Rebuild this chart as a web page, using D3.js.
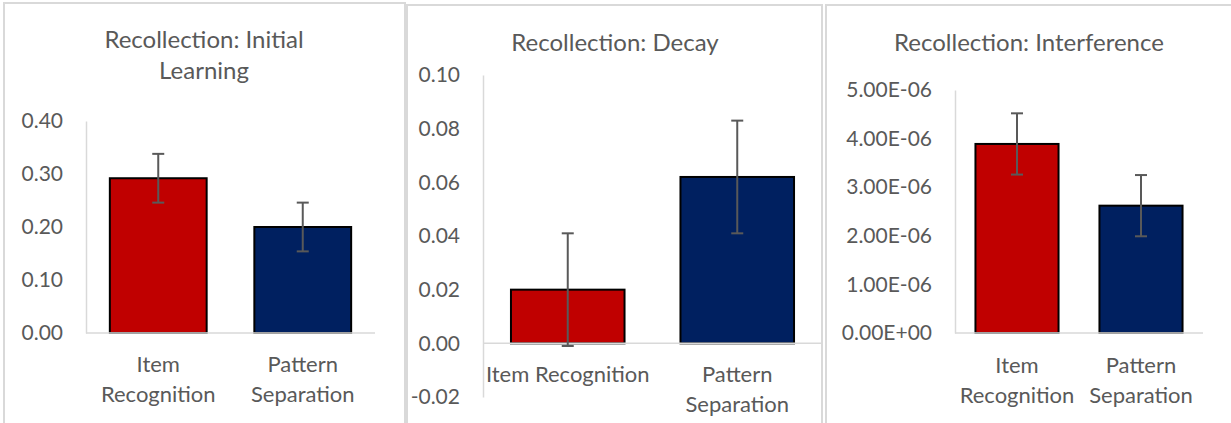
<!DOCTYPE html>
<html>
<head>
<meta charset="utf-8">
<script src="https://cdn.jsdelivr.net/npm/d3@7"></script>
<style>
  html, body { margin: 0; padding: 0; background: #fff; }
  svg { display: block; }
  text { font-family: Lato, "Open Sans", sans-serif; fill: #595959; }
</style>
</head>
<body>
<svg id="chart" width="1231" height="423"></svg>
<script>
// Category labels (line-broken as they appear under each panel)
const categories = ["Item Recognition", "Pattern Separation"];
const barColors = ["#C00000", "#002060"];

// Recollection: Initial Learning
const initialMeans = [0.292, 0.200];
const initialErrors = [0.046, 0.046];
const initialTicks = [0, 0.1, 0.2, 0.3, 0.4];
const initialLabelLines = [["Item", "Recognition"], ["Pattern", "Separation"]];

// Recollection: Decay
const decayMeans = [0.020, 0.062];
const decayErrors = [0.021, 0.021];
const decayTicks = [-0.02, 0, 0.02, 0.04, 0.06, 0.08, 0.10];
const decayLabelLines = [["Item Recognition"], ["Pattern", "Separation"]];

// Recollection: Interference
const interfMeans = [3.89e-6, 2.62e-6];
const interfErrors = [0.63e-6, 0.63e-6];
const interfTicks = [0, 1e-6, 2e-6, 3e-6, 4e-6, 5e-6];
const interfLabelLines = [["Item", "Recognition"], ["Pattern", "Separation"]];

// fixed two-decimal numbers with a plain hyphen for negatives
const fixedFormat = d3.formatLocale({decimal: ".", thousands: ",", grouping: [3], currency: ["", ""], minus: "-"}).format(".2f");
const expFormat = v => {
  const s = v.toExponential(2).toUpperCase();           // e.g. 5.00E-6
  return s.replace(/E([+-])(\d)$/, "E$10$2");            // pad exponent to two digits
};

const panels = [
  {
    title: ["Recollection: Initial", "Learning"], titleX: 204, titleY: 48,
    frame: {x: 4, y: 3, w: 401, h: 440},
    means: initialMeans, errors: initialErrors, ticks: initialTicks,
    domain: [0, 0.4], xRange: [86, 375], yRange: [333, 121],
    fmt: fixedFormat, labelLines: initialLabelLines, labelY: 372
  },
  {
    title: ["Recollection: Decay"], titleX: 615, titleY: 51,
    frame: {x: 407, y: 5, w: 415, h: 440},
    means: decayMeans, errors: decayErrors, ticks: decayTicks,
    domain: [-0.02, 0.10], xRange: [483, 822], yRange: [397, 75],
    fmt: fixedFormat, labelLines: decayLabelLines, labelY: 382
  },
  {
    title: ["Recollection: Interference"], titleX: 1029, titleY: 51,
    frame: {x: 826, y: 5, w: 420, h: 440},
    means: interfMeans, errors: interfErrors, ticks: interfTicks,
    domain: [0, 5e-6], xRange: [955, 1203], yRange: [333, 90],
    fmt: expFormat, labelLines: interfLabelLines, labelY: 373
  }
];

const svg = d3.select("#chart");

panels.forEach(p => {
  const g = svg.append("g");

  // chart-area frame
  g.append("rect")
    .attr("x", p.frame.x).attr("y", p.frame.y)
    .attr("width", p.frame.w).attr("height", p.frame.h)
    .attr("fill", "none").attr("stroke", "#d9d9d9").attr("stroke-width", 2);

  const x = d3.scaleBand().domain(categories).range(p.xRange)
    .paddingInner(0.33).paddingOuter(0.165);
  const y = d3.scaleLinear().domain(p.domain).range(p.yRange);

  // title
  const title = g.append("text")
    .attr("x", p.titleX).attr("y", p.titleY)
    .attr("text-anchor", "middle")
    .style("font-size", "24px");
  p.title.forEach((line, i) => {
    title.append("tspan").attr("x", p.titleX).attr("dy", i === 0 ? 0 : 31).text(line);
  });

  // value axis
  const yAxis = g.append("g")
    .attr("transform", `translate(${p.xRange[0]},0)`)
    .call(d3.axisLeft(y).tickValues(p.ticks).tickFormat(p.fmt)
      .tickSize(0).tickSizeOuter(0).tickPadding(23));
  yAxis.select(".domain").attr("stroke", "#d9d9d9").attr("stroke-width", 1.5);
  yAxis.selectAll("text")
    .style("font-size", "21px")
    .style("font-family", "Lato, 'Open Sans', sans-serif")
    .attr("fill", "#595959");

  // bars
  g.selectAll("rect.bar").data(categories).join("rect")
    .attr("class", "bar")
    .attr("x", d => x(d))
    .attr("width", x.bandwidth())
    .attr("y", (d, i) => y(Math.max(0, p.means[i])))
    .attr("height", (d, i) => Math.abs(y(p.means[i]) - y(0)))
    .attr("fill", (d, i) => barColors[i])
    .attr("stroke", "#000").attr("stroke-width", 2);

  // category axis line at zero
  g.append("line")
    .attr("x1", p.xRange[0]).attr("x2", p.xRange[1])
    .attr("y1", y(0)).attr("y2", y(0))
    .attr("stroke", "#d9d9d9").attr("stroke-width", 1.5);

  // error bars
  const cap = 6;
  categories.forEach((c, i) => {
    const cx = x(c) + x.bandwidth() / 2;
    const hi = y(p.means[i] + p.errors[i]);
    const lo = y(p.means[i] - p.errors[i]);
    const eb = g.append("g").attr("stroke", "#595959").attr("stroke-width", 2);
    eb.append("line").attr("x1", cx).attr("x2", cx).attr("y1", hi).attr("y2", lo);
    eb.append("line").attr("x1", cx - cap).attr("x2", cx + cap).attr("y1", hi).attr("y2", hi);
    eb.append("line").attr("x1", cx - cap).attr("x2", cx + cap).attr("y1", lo).attr("y2", lo);
  });

  // category labels
  categories.forEach((c, i) => {
    const cx = x(c) + x.bandwidth() / 2;
    const t = g.append("text")
      .attr("x", cx).attr("y", p.labelY)
      .attr("text-anchor", "middle")
      .style("font-size", "22px");
    p.labelLines[i].forEach((line, j) => {
      t.append("tspan").attr("x", cx).attr("dy", j === 0 ? 0 : 30).text(line);
    });
  });
});
</script>
</body>
</html>
